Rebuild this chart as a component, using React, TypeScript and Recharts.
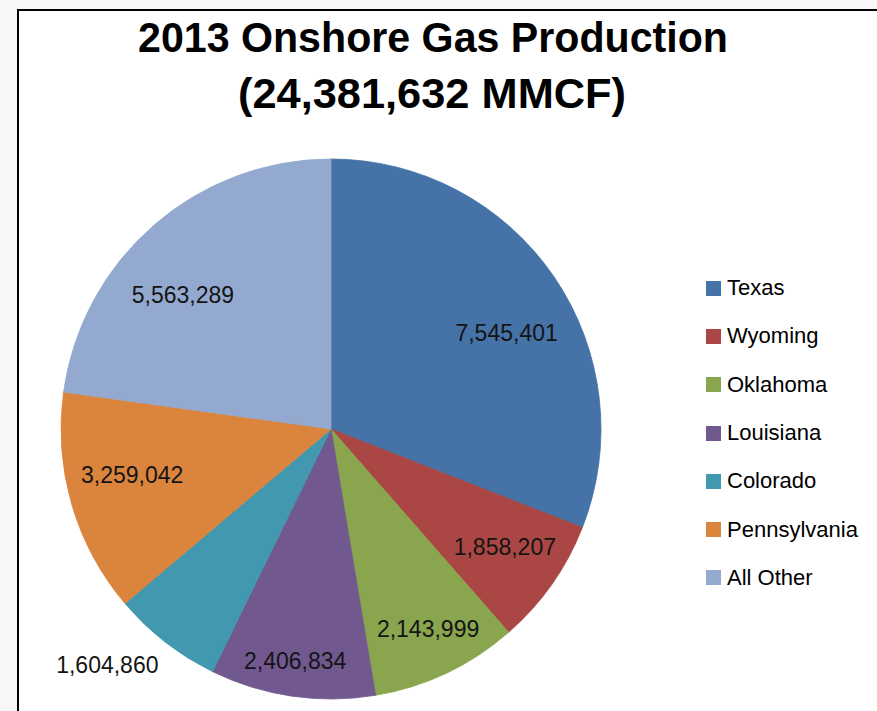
import React from 'react';
import { PieChart, Pie, Cell, Legend } from 'recharts';

const states = ['Texas', 'Wyoming', 'Oklahoma', 'Louisiana', 'Colorado', 'Pennsylvania', 'All Other'];
const production = [7545401, 1858207, 2143999, 2406834, 1604860, 3259042, 5563289];
const colors = ['#4572A7', '#AA4643', '#89A54E', '#71588F', '#4198AF', '#DB843D', '#93A9CF'];
const titleLine1 = '2013 Onshore Gas Production';
const titleLine2 = '(24,381,632 MMCF)';

const data = states.map((name, i) => ({ name, value: production[i] }));

// label placement tweaks (radius in px, angle offset in degrees)
const LABEL_R = [200, 210, 222, 235, 325, 204, 200];
const LABEL_DA = [-5.7, 1, 0.6, -0.5, -5.6, -3.2, 6.7];
const RAD = Math.PI / 180;
const FONT = '"Liberation Sans", Arial, sans-serif';

const renderLabel = (props: any) => {
  const { cx, cy, midAngle, index, value } = props;
  const a = (midAngle + LABEL_DA[index]) * RAD;
  const r = LABEL_R[index];
  const x = cx + r * Math.cos(-a);
  const y = cy + r * Math.sin(-a);
  return (
    <text x={x} y={y} textAnchor="middle" dominantBaseline="central" fill="#141414"
      fontSize={23} fontFamily={FONT}>
      {Number(value).toLocaleString('en-US')}
    </text>
  );
};

const renderLegend = () => (
  <div style={{ fontFamily: FONT, fontSize: 22, color: '#000' }}>
    {states.map((s, i) => (
      <div key={s} style={{ height: 48.3, display: 'flex', alignItems: 'center' }}>
        <span style={{ width: 15, height: 15, background: colors[i], display: 'inline-block', marginRight: 6, flexShrink: 0 }} />
        <span style={{ lineHeight: '22px', whiteSpace: 'nowrap' }}>{s}</span>
      </div>
    ))}
  </div>
);

export default function App() {
  return (
    <div style={{ position: 'fixed', left: 0, top: 0, width: 877, height: 711, background: '#f7f7f7', overflow: 'hidden' }}>
      <div style={{ position: 'absolute', left: 17, top: 9, width: 900, height: 760, borderLeft: '2px solid #000', borderTop: '2px solid #000', background: '#fff' }} />
      <svg width={877} height={140} style={{ position: 'absolute', left: 0, top: 0 }}>
        <text x={433} y={52} textAnchor="middle" fontFamily={FONT} fontWeight="bold" fontSize={42}
          textLength={590} lengthAdjust="spacingAndGlyphs" fill="#000">{titleLine1}</text>
        <text x={432} y={108} textAnchor="middle" fontFamily={FONT} fontWeight="bold" fontSize={42}
          textLength={388} lengthAdjust="spacingAndGlyphs" fill="#000">{titleLine2}</text>
      </svg>
      <div style={{ position: 'absolute', left: 0, top: 0 }}>
        <PieChart width={877} height={711} margin={{ top: 0, right: 0, bottom: 0, left: 0 }}>
          <Pie data={data} dataKey="value" nameKey="name" cx={331} cy={429} outerRadius={270}
            startAngle={90} endAngle={-270} isAnimationActive={false}
            label={renderLabel} labelLine={false}>
            {data.map((d, i) => <Cell key={d.name} fill={colors[i]} stroke={colors[i]} strokeWidth={0.8} />)}
          </Pie>
          <Legend content={renderLegend} layout="vertical"
            wrapperStyle={{ position: 'absolute', left: 706, top: 264, width: 170 }} />
        </PieChart>
      </div>
    </div>
  );
}
